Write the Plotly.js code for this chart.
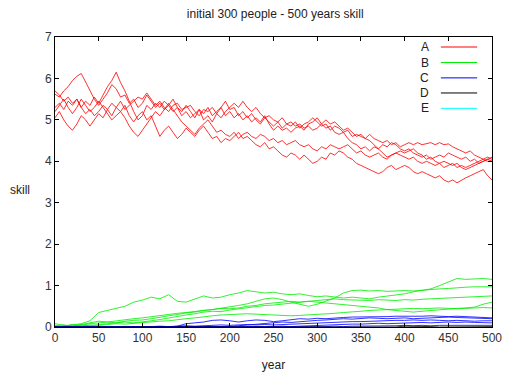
<!DOCTYPE html>
<html>
<head>
<meta charset="utf-8">
<script src="https://cdn.plot.ly/plotly-3.0.1.min.js"></script>
<style>html,body{margin:0;padding:0;background:#fff;}#chart{width:505px;height:377px;}</style>
</head>
<body>
<div id="chart"></div>
<script>
// years sampled every 5 and every 10
var years5 = [0,5,10,15,20,25,30,35,40,45,50,55,60,65,70,75,80,85,90,95,100,105,110,115,120,125,130,135,140,145,150,155,160,165,170,175,180,185,190,195,200,205,210,215,220,225,230,235,240,245,250,255,260,265,270,275,280,285,290,295,300,305,310,315,320,325,330,335,340,345,350,355,360,365,370,375,380,385,390,395,400,405,410,415,420,425,430,435,440,445,450,455,460,465,470,475,480,485,490,495,500];
var years10 = [0,10,20,30,40,50,60,70,80,90,100,110,120,130,140,150,160,170,180,190,200,210,220,230,240,250,260,270,280,290,300,310,320,330,340,350,360,370,380,390,400,410,420,430,440,450,460,470,480,490,500];

// A (red) runs, every 5 years
var A1 = [5.62,5.55,5.7,5.8,5.95,6.05,6.12,5.9,5.7,5.5,5.35,5.5,5.65,5.85,5.75,5.55,5.6,5.4,5.5,5.3,5.4,5.6,5.45,5.3,5.4,5.25,5.35,5.2,5.3,5.1,5.2,5.05,5.15,5.25,5.0,5.1,4.95,5.15,5.3,5.45,5.25,5.3,5.1,5.2,5.05,5.15,5.0,4.9,5.05,4.95,4.85,4.95,4.8,4.9,4.85,4.95,4.8,4.9,4.95,5.05,4.95,4.85,4.9,4.75,4.85,4.8,4.7,4.75,4.6,4.65,4.6,4.55,4.65,4.55,4.5,4.45,4.5,4.4,4.45,4.35,4.4,4.45,4.4,4.45,4.4,4.42,4.45,4.4,4.45,4.4,4.42,4.35,4.3,4.25,4.2,4.25,4.15,4.1,4.05,4.1,4.05];
var A2 = [5.3,5.4,5.25,5.45,5.35,5.5,5.3,5.45,5.35,5.55,5.4,5.6,5.8,5.95,6.15,5.9,5.7,5.45,5.2,5.0,5.1,5.35,5.25,5.4,5.3,5.45,5.35,5.5,5.3,5.2,5.35,5.2,5.05,5.25,5.15,5.3,5.1,5.2,5.3,5.1,5.2,5.05,5.15,5.0,5.1,4.95,5.05,4.95,5.1,4.9,4.75,4.85,4.75,4.8,4.7,4.8,4.85,4.75,4.9,4.95,5.05,4.9,4.8,4.85,4.7,4.65,4.7,4.55,4.45,4.4,4.3,4.35,4.25,4.35,4.3,4.4,4.35,4.45,4.4,4.3,4.25,4.3,4.2,4.15,4.1,4.15,4.05,4.1,4.15,4.1,4.2,4.15,4.1,4.05,4.1,4.0,4.05,3.95,4.0,4.05,4.1];
var A3 = [5.05,5.2,5.0,4.85,4.75,4.9,5.1,5.0,4.85,5.0,5.15,5.05,5.25,5.1,5.3,5.2,5.35,5.1,4.95,5.1,5.2,5.0,5.1,4.85,4.6,4.75,4.85,4.7,4.55,4.65,4.8,4.7,4.6,4.75,4.85,4.7,4.55,4.6,4.45,4.55,4.5,4.6,4.7,4.55,4.6,4.5,4.4,4.35,4.45,4.3,4.35,4.25,4.15,4.1,4.2,4.15,4.05,4.15,4.05,3.95,4.0,4.1,4.05,4.2,4.15,4.25,4.2,4.1,4.05,3.95,3.9,3.85,3.8,3.75,3.7,3.75,3.85,3.9,3.8,3.85,3.9,3.85,3.75,3.7,3.75,3.7,3.65,3.6,3.65,3.55,3.5,3.55,3.48,3.55,3.6,3.65,3.7,3.75,3.8,3.65,3.55];
var A4 = [5.7,5.6,5.45,5.55,5.4,5.5,5.3,5.15,5.25,5.1,5.2,5.35,5.25,5.4,5.3,5.45,5.25,5.35,5.45,5.55,5.5,5.65,5.5,5.35,5.45,5.3,5.2,5.35,5.4,5.25,5.3,5.35,5.2,5.1,5.25,5.2,5.3,5.15,5.05,5.2,5.3,5.4,5.3,5.45,5.3,5.2,5.3,5.15,5.05,5.1,5.0,4.95,5.05,4.9,4.95,4.85,4.9,4.8,4.85,4.75,4.8,4.9,5.0,4.9,4.95,4.85,4.75,4.8,4.7,4.6,4.65,4.55,4.5,4.4,4.3,4.2,4.1,4.15,4.2,4.15,4.1,4.05,4.1,4.0,3.95,4.0,3.95,3.9,3.95,3.85,3.9,3.95,3.85,3.9,3.85,3.9,3.95,4.0,4.05,4.0,4.0];
var A5 = [5.2,5.35,5.5,5.3,5.15,5.3,5.5,5.35,5.2,5.3,5.45,5.3,5.15,5.0,5.1,5.2,5.05,4.85,4.7,4.6,4.75,4.9,5.05,5.2,5.1,5.25,5.4,5.25,5.1,4.95,4.85,4.75,4.65,4.8,4.9,5.0,4.85,4.7,4.75,4.65,4.6,4.7,4.55,4.65,4.7,4.6,4.55,4.65,4.6,4.5,4.55,4.45,4.5,4.4,4.45,4.5,4.4,4.35,4.4,4.3,4.25,4.35,4.3,4.4,4.35,4.3,4.35,4.4,4.3,4.2,4.25,4.15,4.1,4.15,4.2,4.1,4.05,4.15,4.2,4.25,4.2,4.25,4.3,4.2,4.15,4.05,4.1,4.0,3.95,4.0,3.95,3.9,3.95,3.85,3.8,3.85,3.9,3.95,4.0,4.05,4.0];

// B (green) runs, every 10 years
var B1 = [0.0,0.02,0.05,0.08,0.15,0.35,0.4,0.45,0.5,0.6,0.65,0.72,0.68,0.78,0.62,0.6,0.68,0.75,0.7,0.72,0.78,0.82,0.88,0.85,0.82,0.84,0.8,0.78,0.8,0.76,0.73,0.75,0.72,0.7,0.72,0.7,0.68,0.72,0.75,0.78,0.8,0.85,0.88,0.92,1.0,1.08,1.17,1.15,1.16,1.17,1.15];
var B2 = [0.03,0.05,0.02,0.06,0.1,0.14,0.12,0.15,0.18,0.2,0.22,0.25,0.28,0.3,0.33,0.35,0.38,0.4,0.42,0.45,0.48,0.52,0.56,0.62,0.68,0.7,0.66,0.6,0.55,0.5,0.55,0.62,0.7,0.82,0.88,0.89,0.87,0.88,0.86,0.87,0.88,0.87,0.89,0.9,0.92,0.93,0.95,0.96,0.97,0.97,0.97];
var B3 = [0.0,0.02,0.06,0.04,0.08,0.1,0.12,0.1,0.14,0.16,0.17,0.2,0.24,0.27,0.3,0.34,0.36,0.4,0.42,0.45,0.44,0.46,0.5,0.52,0.56,0.58,0.6,0.62,0.6,0.62,0.64,0.66,0.68,0.66,0.65,0.65,0.64,0.66,0.65,0.64,0.66,0.65,0.67,0.68,0.7,0.71,0.72,0.72,0.73,0.74,0.75];
var B4 = [0.08,0.04,0.02,0.05,0.03,0.06,0.08,0.1,0.12,0.1,0.12,0.15,0.18,0.22,0.26,0.29,0.32,0.36,0.38,0.37,0.41,0.44,0.46,0.5,0.52,0.53,0.55,0.58,0.6,0.62,0.6,0.58,0.56,0.55,0.52,0.5,0.48,0.46,0.42,0.4,0.37,0.36,0.38,0.4,0.42,0.43,0.45,0.46,0.48,0.55,0.6];
var B5 = [0.02,0.0,0.03,0.02,0.05,0.04,0.06,0.08,0.07,0.09,0.1,0.12,0.14,0.15,0.18,0.2,0.22,0.25,0.27,0.29,0.3,0.31,0.32,0.31,0.3,0.29,0.28,0.27,0.28,0.29,0.3,0.32,0.33,0.35,0.36,0.38,0.4,0.41,0.42,0.43,0.44,0.45,0.44,0.45,0.46,0.45,0.44,0.45,0.46,0.47,0.46];

// C (blue) runs, every 10 years
var C1 = [0,0,0,0,0,0,0,0,0,0,0,0,0,0,0.02,0.08,0.1,0.12,0.16,0.17,0.15,0.12,0.15,0.17,0.16,0.13,0.15,0.18,0.2,0.19,0.21,0.2,0.22,0.23,0.24,0.24,0.25,0.24,0.25,0.26,0.26,0.25,0.26,0.27,0.26,0.25,0.26,0.25,0.24,0.23,0.22];
var C2 = [0,0,0,0,0,0,0,0,0,0,0,0,0,0,0,0,0,0,0,0,0.01,0.03,0.05,0.06,0.08,0.1,0.12,0.11,0.13,0.15,0.16,0.17,0.18,0.2,0.19,0.21,0.22,0.21,0.2,0.21,0.22,0.2,0.21,0.22,0.23,0.24,0.23,0.22,0.21,0.2,0.2];
var C3 = [0,0,0,0,0,0,0,0,0,0,0,0.01,0.02,0.01,0.02,0.03,0.02,0.03,0.04,0.05,0.04,0.05,0.06,0.05,0.06,0.05,0.06,0.07,0.08,0.09,0.1,0.1,0.11,0.12,0.13,0.13,0.14,0.14,0.15,0.16,0.16,0.17,0.16,0.17,0.16,0.15,0.16,0.15,0.14,0.15,0.15];
var C4 = [0,0,0,0,0,0,0,0,0,0,0,0,0,0,0,0,0,0,0,0,0,0,0,0,0,0.01,0.02,0.01,0.02,0.03,0.04,0.05,0.05,0.06,0.07,0.07,0.08,0.09,0.08,0.09,0.1,0.1,0.11,0.1,0.11,0.12,0.11,0.12,0.11,0.1,0.1];
var C5 = [0,0,0,0,0,0,0,0,0,0,0,0,0,0,0,0,0,0,0,0,0,0,0,0,0,0,0,0,0,0,0.01,0.01,0.02,0.01,0.02,0.02,0.03,0.02,0.03,0.03,0.04,0.03,0.04,0.03,0.04,0.04,0.03,0.04,0.04,0.03,0.04];

// D (black) run, every 10 years
var D1 = [0,0,0,0,0,0,0,0,0,0,0,0,0,0,0,0,0,0,0,0,0,0,0,0,0,0,0,0,0,0,0,0,0,0,0,0,0,0,0,0,0.02,0.02,0.02,0.01,0,0,0,0,0,0,0.01];

// E has no visible values
var E1 = [];

var seriesNames = ["A","B","C","D","E"];
var seriesColors = ["#ff0000","#00ee00","#0000ff","#000000","#00ffff"];

var traces = [];
function addRuns(runs, xs, color) {
  runs.forEach(function (ys) {
    traces.push({x: xs, y: ys, type: "scatter", mode: "lines", opacity: 0.9,
      line: {color: color, width: 0.9}, showlegend: false, hoverinfo: "skip"});
  });
}
addRuns([A1, A2, A3, A4, A5], years5, seriesColors[0]);
addRuns([B1, B2, B3, B4, B5], years10, seriesColors[1]);
addRuns([C1, C2, C3, C4, C5], years10, seriesColors[2]);
addRuns([D1], years10, seriesColors[3]);
addRuns([E1], [], seriesColors[4]);

var font = {family: "Liberation Sans, Arial, sans-serif", size: 11, color: "#222"};

// custom gnuplot-style key: label then sample line
var keyY = [0.9655, 0.912, 0.859, 0.807, 0.754];
var annotations = [];
var shapes = [];
seriesNames.forEach(function (n, i) {
  annotations.push({text: n, xref: "paper", yref: "paper", x: 0.86, y: keyY[i],
    xanchor: "right", yanchor: "middle", showarrow: false, font: {family: font.family, size: 12, color: "#222"}});
  shapes.push({type: "line", xref: "paper", yref: "paper", x0: 0.883, x1: 0.966,
    y0: keyY[i], y1: keyY[i], line: {color: seriesColors[i], width: 1}});
});
annotations.push({text: "skill", xref: "paper", yref: "paper", x: -0.08, y: 0.472,
  xanchor: "center", yanchor: "middle", showarrow: false, font: {family: font.family, size: 12, color: "#222"}});

var layout = {
  width: 505, height: 377,
  margin: {l: 55, r: 13, t: 37, b: 50},
  paper_bgcolor: "#fff", plot_bgcolor: "#fff",
  font: font,
  showlegend: false,
  title: {text: "initial 300 people - 500 years skill", font: {family: font.family, size: 12, color: "#222"},
    x: 0.545, xanchor: "center", y: 0.963, yanchor: "middle"},
  xaxis: {range: [0, 500], dtick: 50, tick0: 0, ticks: "inside", ticklen: 4, tickcolor: "#000",
    showline: true, linecolor: "#000", linewidth: 1, mirror: "ticks", showgrid: false, zeroline: false,
    tickfont: {family: font.family, size: 12, color: "#333"},
    title: {text: "year", font: {family: font.family, size: 12, color: "#222"}, standoff: 16}},
  yaxis: {range: [0, 7], dtick: 1, tick0: 0, ticks: "inside", ticklen: 4, tickcolor: "#000",
    showline: true, linecolor: "#000", linewidth: 1, mirror: "ticks", showgrid: false, zeroline: false,
    tickfont: {family: font.family, size: 12, color: "#333"}},
  annotations: annotations,
  shapes: shapes
};

Plotly.newPlot("chart", traces, layout, {staticPlot: true, displayModeBar: false});
</script>
</body>
</html>
